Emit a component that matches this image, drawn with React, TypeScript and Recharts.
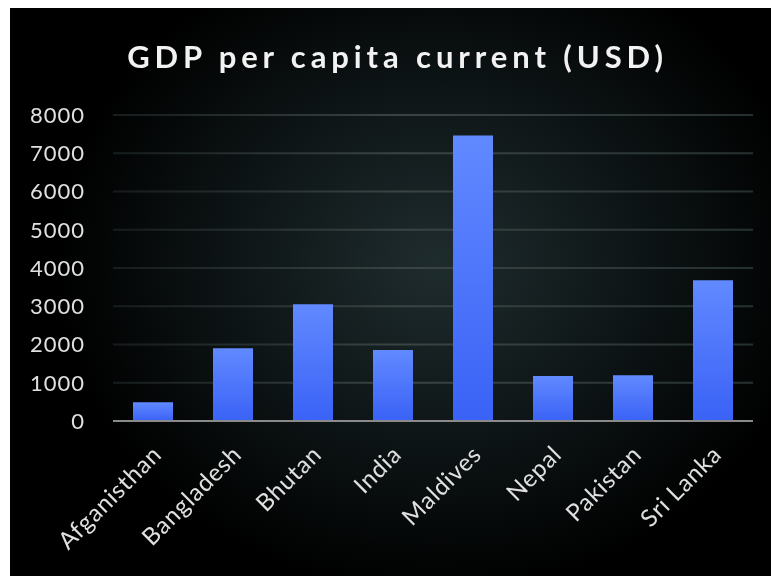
import { BarChart, Bar, XAxis, YAxis, CartesianGrid } from "recharts"

const countries = ["Afganisthan", "Bangladesh", "Bhutan", "India", "Maldives", "Nepal", "Pakistan", "Sri Lanka"]
const gdpPerCapita = [490, 1900, 3055, 1855, 7465, 1175, 1195, 3680]
const yTicks = [0, 1000, 2000, 3000, 4000, 5000, 6000, 7000, 8000]

const data = countries.map((name, i) => ({ name, gdp: gdpPerCapita[i] }))

const FONT = "Lato, 'Open Sans', sans-serif"

const CountryTick = ({ x, y, payload }: { x?: number; y?: number; payload?: { value: string } }) => (
  <g transform={`translate(${(x ?? 0) + 10},${(y ?? 0) + 27})`}>
    <text
      transform="rotate(-45)"
      textAnchor="end"
      fill="#e0e0e0"
      fontSize={24}
      letterSpacing={0.8}
      fontFamily={FONT}
    >
      {payload?.value}
    </text>
  </g>
)

export default function App() {
  return (
    <div
      style={{
        position: "fixed",
        left: 10,
        top: 8,
        width: 761,
        height: 568,
        background: "radial-gradient(ellipse 380px 330px at 56% 45%, #1f2c2e 0%, #0d1415 55%, #000 100%)",
      }}
    >
      <div
        style={{
          position: "absolute",
          top: 28,
          left: 0,
          width: 775,
          textAlign: "center",
          color: "#f2f2f2",
          fontFamily: FONT,
          fontWeight: 700,
          fontSize: 31,
          letterSpacing: 4.9,
          lineHeight: "40px",
        }}
      >
        GDP per capita current (USD)
      </div>
      <BarChart
        width={761}
        height={568}
        data={data}
        margin={{ top: 107, right: 18, left: 0, bottom: 0 }}
        barCategoryGap="25%"
        style={{ position: "absolute", left: 0, top: 0 }}
      >
        <defs>
          <linearGradient id="barFill" x1="0" y1="0" x2="0" y2="1">
            <stop offset="0%" stopColor="#6189ff" />
            <stop offset="100%" stopColor="#3a62f6" />
          </linearGradient>
          <linearGradient id="gridStroke" gradientUnits="userSpaceOnUse" x1="103" y1="0" x2="743" y2="0">
            <stop offset="0%" stopColor="#161c1d" />
            <stop offset="45%" stopColor="#3a4444" />
            <stop offset="100%" stopColor="#263030" />
          </linearGradient>
        </defs>
        <CartesianGrid vertical={false} stroke="url(#gridStroke)" strokeWidth={2} />
        <XAxis
          dataKey="name"
          interval={0}
          height={155}
          tickLine={false}
          axisLine={{ stroke: "#8a8a8a", strokeWidth: 2 }}
          tick={<CountryTick />}
        />
        <YAxis
          domain={[0, 8000]}
          ticks={yTicks}
          width={103}
          tickLine={false}
          axisLine={false}
          tickSize={0}
          tickMargin={28}
          tick={{ fill: "#e0e0e0", fontSize: 22, fontFamily: FONT, letterSpacing: 1 }}
        />
        <Bar dataKey="gdp" fill="url(#barFill)" isAnimationActive={false} />
      </BarChart>
    </div>
  )
}
